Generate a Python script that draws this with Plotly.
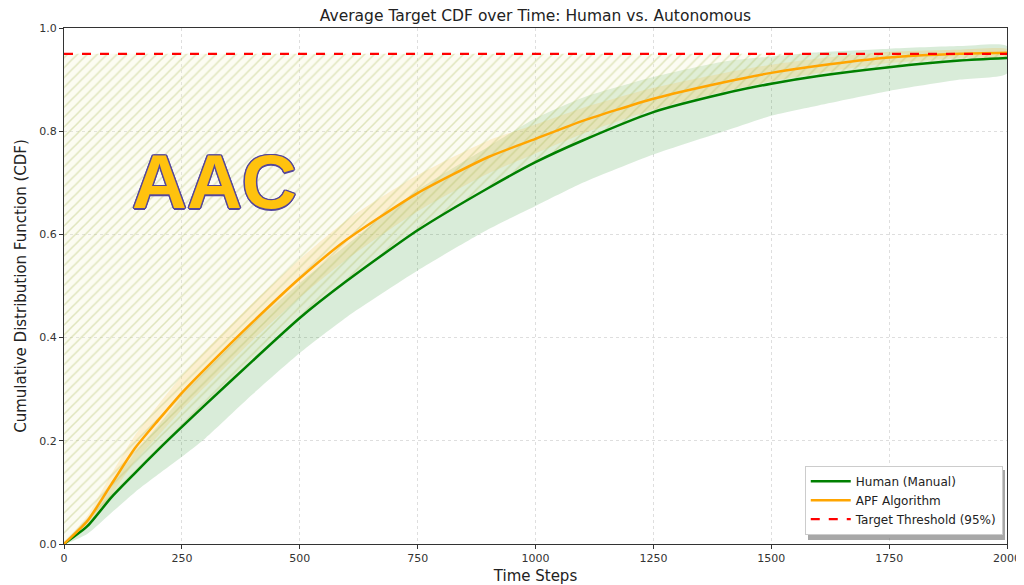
import plotly.graph_objects as go

# ---- data ----
time_steps = [0, 50, 100, 150, 200, 250, 300, 400, 500, 600, 750, 900, 1000, 1100, 1250, 1400, 1500, 1600, 1750, 1900, 2000]

human_mean = [0.0, 0.035, 0.09, 0.137, 0.183, 0.227, 0.27, 0.355, 0.438, 0.51, 0.608, 0.69, 0.74, 0.782, 0.837, 0.873, 0.892, 0.907, 0.924, 0.937, 0.942]
human_lower = [0.0, 0.02, 0.06, 0.10, 0.135, 0.169, 0.205, 0.29, 0.37, 0.44, 0.53, 0.61, 0.655, 0.70, 0.755, 0.80, 0.83, 0.85, 0.878, 0.90, 0.912]
human_upper = [0.0, 0.05, 0.12, 0.175, 0.23, 0.285, 0.335, 0.425, 0.506, 0.58, 0.686, 0.77, 0.825, 0.865, 0.905, 0.935, 0.945, 0.953, 0.96, 0.965, 0.965]

apf_mean = [0.0, 0.045, 0.115, 0.185, 0.24, 0.293, 0.34, 0.43, 0.515, 0.59, 0.68, 0.75, 0.785, 0.82, 0.863, 0.895, 0.913, 0.927, 0.943, 0.95, 0.952]
apf_lower = [0.0, 0.035, 0.095, 0.16, 0.21, 0.26, 0.305, 0.395, 0.478, 0.552, 0.645, 0.718, 0.757, 0.795, 0.842, 0.877, 0.897, 0.913, 0.932, 0.942, 0.945]
apf_upper = [0.0, 0.055, 0.135, 0.21, 0.27, 0.326, 0.375, 0.467, 0.552, 0.628, 0.715, 0.782, 0.813, 0.845, 0.884, 0.913, 0.929, 0.941, 0.954, 0.958, 0.959]

threshold = 0.95
x_ticks = [0, 250, 500, 750, 1000, 1250, 1500, 1750, 2000]
y_ticks = [0.0, 0.2, 0.4, 0.6, 0.8, 1.0]

title = "Average Target CDF over Time: Human vs. Autonomous"
series_names = ["Human (Manual)", "APF Algorithm", "Target Threshold (95%)"]

GREEN = "#008000"
ORANGE = "#FFA500"
FONT = "DejaVu Sans"
SMOOTH = dict(shape="spline", smoothing=0.6)

# figure is placed at an 8px page offset; size/margins compensate
FIG_W, FIG_H = 1016, 577
M_L, M_R, M_T, M_B = 56, 17, 20, 41

fig = go.Figure()

# green band
fig.add_trace(go.Scatter(
    x=time_steps + time_steps[::-1], y=human_upper + human_lower[::-1],
    fill="toself", fillcolor="rgba(0,128,0,0.15)", line=dict(width=0, **SMOOTH),
    hoverinfo="skip", showlegend=False))
# orange band
fig.add_trace(go.Scatter(
    x=time_steps + time_steps[::-1], y=apf_upper + apf_lower[::-1],
    fill="toself", fillcolor="rgba(255,165,0,0.18)", line=dict(width=0, **SMOOTH),
    hoverinfo="skip", showlegend=False))
# hatched area between threshold and human curve
thr_line = [threshold] * len(time_steps)
fig.add_trace(go.Scatter(
    x=time_steps + time_steps[::-1], y=thr_line + human_mean[::-1],
    fill="toself", fillcolor="rgba(0,0,0,0)", line=dict(width=0, **SMOOTH),
    fillpattern=dict(shape="/", fgcolor="rgba(170,185,90,0.7)", bgcolor="rgba(245,242,205,0.25)",
                     size=7, solidity=0.22, fillmode="overlay"),
    hoverinfo="skip", showlegend=False))

fig.add_trace(go.Scatter(x=time_steps, y=human_mean, mode="lines", name=series_names[0],
                         line=dict(color=GREEN, width=2.5, **SMOOTH)))
fig.add_trace(go.Scatter(x=time_steps, y=apf_mean, mode="lines", name=series_names[1],
                         line=dict(color=ORANGE, width=2.5, **SMOOTH)))
fig.add_trace(go.Scatter(x=[time_steps[0], time_steps[-1]], y=[threshold, threshold], mode="lines",
                         name=series_names[2], line=dict(color="red", width=2.2, dash="dash")))

# legend shadow (paper coords; plot area 64..1007 x, 28..544 y on screen)
fig.add_shape(type="rect", xref="paper", yref="paper",
              x0=(808 - 64) / 943, x1=(1005 - 64) / 943,
              y0=(544 - 540) / 516, y1=(544 - 470) / 516,
              fillcolor="rgba(110,110,110,0.6)", line=dict(width=0), layer="above")

fig.add_annotation(x=320, y=0.703, xref="x", yref="y", text="<b>AAC</b>", showarrow=False,
                   font=dict(family="Liberation Sans", size=76, color="#FFC20E",
                             shadow="1.5px 0 0 #55479A, -1.5px 0 0 #55479A, 0 1.5px 0 #55479A, 0 -1.5px 0 #55479A, 1px 1px 0 #55479A, -1px -1px 0 #55479A, 1px -1px 0 #55479A, -1px 1px 0 #55479A"))

axis_common = dict(showline=True, linecolor="#333333", linewidth=1.2, mirror=True,
                   ticks="outside", ticklen=4, tickcolor="#333333", automargin=False,
                   showgrid=True, gridcolor="rgba(200,200,200,0.6)", griddash="dot", gridwidth=1,
                   zeroline=False, tickfont=dict(family=FONT, size=11, color="#333333"))

fig.update_xaxes(range=[0, 2000], tickvals=x_ticks, ticktext=[str(v) for v in x_ticks],
                 title=dict(text="Time Steps", font=dict(family=FONT, size=15, color="#222222"), standoff=6),
                 **axis_common)
fig.update_yaxes(range=[0, 1.0], tickvals=y_ticks, ticktext=[f"{v:.1f}" for v in y_ticks],
                 title=dict(text="Cumulative Distribution Function (CDF)",
                            font=dict(family=FONT, size=15, color="#222222"), standoff=8),
                 **axis_common)

fig.update_layout(
    width=FIG_W, height=FIG_H,
    margin=dict(l=M_L, r=M_R, t=M_T, b=M_B, autoexpand=False),
    paper_bgcolor="white", plot_bgcolor="white",
    title=dict(text=title, x=0.5, xref="paper", y=1 - 8 / FIG_H, yanchor="middle",
               font=dict(family=FONT, size=15.5, color="#222222"), automargin=False),
    legend=dict(x=0.9955, y=0.018, xanchor="right", yanchor="bottom",
                bgcolor="white", bordercolor="#cccccc", borderwidth=1,
                font=dict(family=FONT, size=12, color="#222222"), tracegroupgap=0,
                itemwidth=40),
    showlegend=True,
)

fig.write_html("out.html")
